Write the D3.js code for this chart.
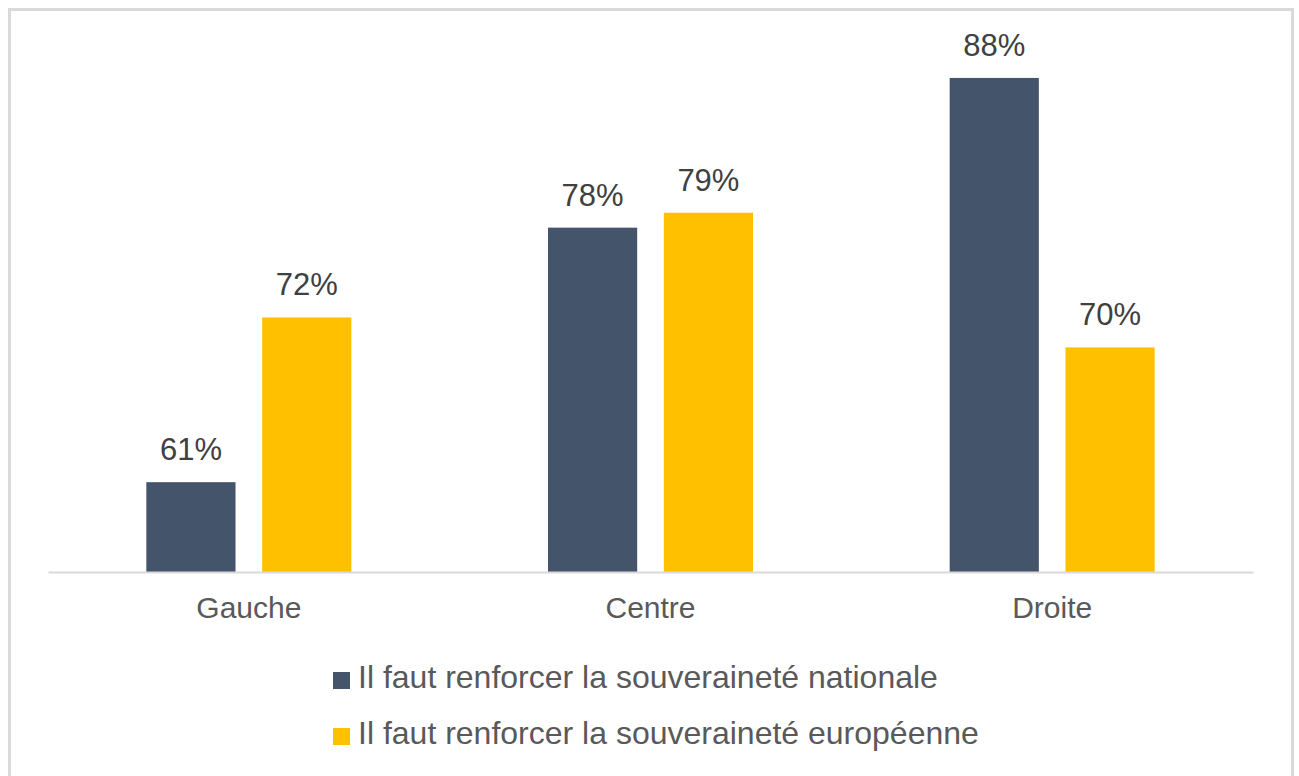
<!DOCTYPE html>
<html>
<head>
<meta charset="utf-8">
<script src="https://cdn.jsdelivr.net/npm/d3@7"></script>
<style>
  body { margin: 0; background: #fff; }
  svg { display: block; font-family: "Liberation Sans", Arial, sans-serif; }
</style>
</head>
<body>
<svg width="1299" height="776"></svg>
<script>
var categories = ["Gauche", "Centre", "Droite"];
var seriesNames = ["Il faut renforcer la souveraineté nationale",
                   "Il faut renforcer la souveraineté européenne"];
var nationale = [61, 78, 88];
var europeenne = [72, 79, 70];
var colors = ["#44546a", "#ffc000"];

var svg = d3.select("svg"),
    width = +svg.attr("width"),
    height = +svg.attr("height");

// cadre gris
svg.append("rect")
    .attr("x", 9.5).attr("y", 9.5)
    .attr("width", 1283).attr("height", 780)
    .attr("fill", "none")
    .attr("stroke", "#d9d9d9")
    .attr("stroke-width", 3);

var data = categories.map(function (c, i) {
    return { cat: c, values: [nationale[i], europeenne[i]] };
});

var x0 = d3.scaleBand().domain(categories).range([48, 1253]);
var x1 = d3.scaleBand().domain([0, 1]).range([0, 205]).paddingInner(0.23);
var y = d3.scaleLinear().domain([55, 90]).range([572, 48]);

var groups = svg.append("g")
    .selectAll("g")
    .data(data)
    .enter().append("g")
    .attr("transform", function (d) {
        return "translate(" + (x0(d.cat) + x0.bandwidth() / 2 - 102.5) + ",0)";
    });

groups.selectAll("rect")
    .data(function (d) { return d.values; })
    .enter().append("rect")
    .attr("x", function (d, i) { return x1(i); })
    .attr("y", function (d) { return y(d); })
    .attr("width", x1.bandwidth())
    .attr("height", function (d) { return y(55) - y(d); })
    .attr("fill", function (d, i) { return colors[i]; });

groups.selectAll("text")
    .data(function (d) { return d.values; })
    .enter().append("text")
    .attr("x", function (d, i) { return x1(i) + x1.bandwidth() / 2; })
    .attr("y", function (d) { return y(d) - 22; })
    .attr("text-anchor", "middle")
    .attr("font-size", 31)
    .attr("fill", "#404040")
    .text(function (d) { return d + "%"; });

// axe x
var xAxis = svg.append("g")
    .attr("transform", "translate(0," + y(55) + ")")
    .call(d3.axisBottom(x0).tickSize(0).tickPadding(0));
xAxis.select(".domain").attr("stroke", "#d9d9d9").attr("stroke-width", 2);
xAxis.selectAll("text")
    .attr("dy", null)
    .attr("y", 46)
    .attr("font-size", 30)
    .attr("font-family", "Liberation Sans, Arial, sans-serif")
    .attr("fill", "#595959");

// légende
var legend = svg.append("g")
    .selectAll("g")
    .data(seriesNames)
    .enter().append("g")
    .attr("transform", function (d, i) { return "translate(333," + (688 + i * 56) + ")"; });

legend.append("rect")
    .attr("x", 0).attr("y", -16)
    .attr("width", 17).attr("height", 17)
    .attr("fill", function (d, i) { return colors[i]; });

legend.append("text")
    .attr("x", 25)
    .attr("y", 0)
    .attr("font-size", 32)
    .attr("fill", "#595959")
    .text(function (d) { return d; });
</script>
</body>
</html>
